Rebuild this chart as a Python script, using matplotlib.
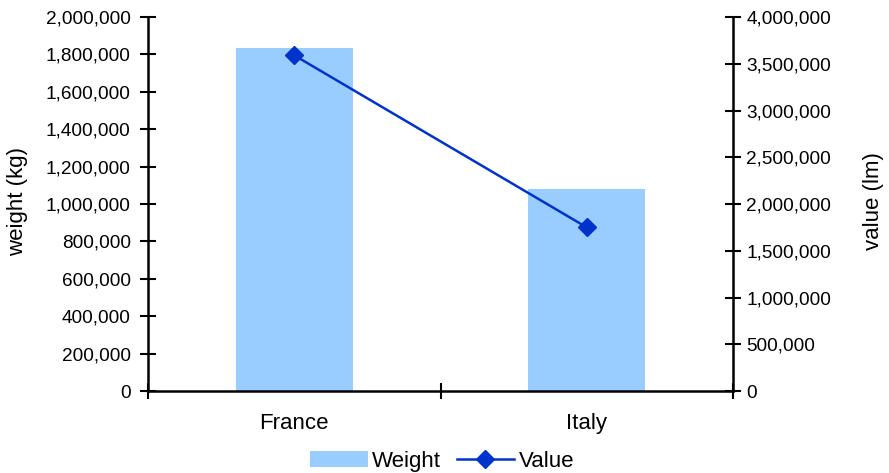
import matplotlib
matplotlib.use("Agg")
import matplotlib.pyplot as plt
from matplotlib.ticker import FuncFormatter, MultipleLocator
from matplotlib.lines import Line2D
from matplotlib.patches import Patch

categories = ["France", "Italy"]
weight_kg = [1835000, 1080000]
value_lm = [3590000, 1750000]

plt.rcParams['font.family'] = ['Liberation Sans', 'DejaVu Sans']
FS = 13.7
FL = 16

fig = plt.figure(figsize=(8.89, 4.73), dpi=100)
ax = fig.add_axes([148/889, 82/473, 585/889, 374/473])
ax2 = ax.twinx()

x = list(range(len(categories)))
bar_color = "#99CCFF"
line_color = "#0033CC"

ax.bar(x, weight_kg, width=0.4, color=bar_color, zorder=2)
ax2.plot(x, value_lm, color=line_color, lw=1.8, marker='D', markersize=9, zorder=3)

ax.set_xlim(-0.5, len(categories) - 0.5)
ax.set_ylim(0, 2000000)
ax2.set_ylim(0, 4000000)
ax.yaxis.set_major_locator(MultipleLocator(200000))
ax2.yaxis.set_major_locator(MultipleLocator(500000))
fmt = FuncFormatter(lambda v, p: f"{int(round(v)):,}")
ax.yaxis.set_major_formatter(fmt)
ax2.yaxis.set_major_formatter(fmt)

ax.set_xticks([-0.5, 0.5, 1.5])
ax.set_xticklabels([])
ax.set_xticks(x, minor=True)
ax.set_xticklabels(categories, minor=True)
ax.tick_params(axis='x', which='minor', length=0, labelsize=FL, pad=16)
ax.tick_params(axis='x', which='major', direction='inout', length=12, width=1.5)

for a in (ax, ax2):
    for s in a.spines.values():
        s.set_visible(False)
ax.spines['left'].set_visible(True)
ax.spines['bottom'].set_visible(True)
ax2.spines['right'].set_visible(True)
for s in (ax.spines['left'], ax.spines['bottom'], ax2.spines['right']):
    s.set_linewidth(1.8)
    s.set_color('black')

ax.tick_params(axis='y', direction='inout', length=11, width=1.5, labelsize=FS, pad=7)
ax2.tick_params(axis='y', direction='inout', length=11, width=1.5, labelsize=FS, pad=4)

fig.text(18/889, 1 - 201/473, "weight (kg)", rotation=90, ha='center', va='center', fontsize=FL)
fig.text(873/889, 1 - 201/473, "value (lm)", rotation=90, ha='center', va='center', fontsize=FL)

handles = [Patch(facecolor=bar_color, edgecolor='none'),
           Line2D([0], [0], color=line_color, lw=1.8, marker='D', markersize=9)]
fig.legend(handles, ["Weight", "Value"], loc='center', bbox_to_anchor=(442/889, 12/473),
           ncol=2, frameon=False, fontsize=FL, handlelength=2.6, handleheight=0.7,
           columnspacing=0.7, handletextpad=0.2, borderpad=0, borderaxespad=0)

fig.savefig("out.png", dpi=100)
